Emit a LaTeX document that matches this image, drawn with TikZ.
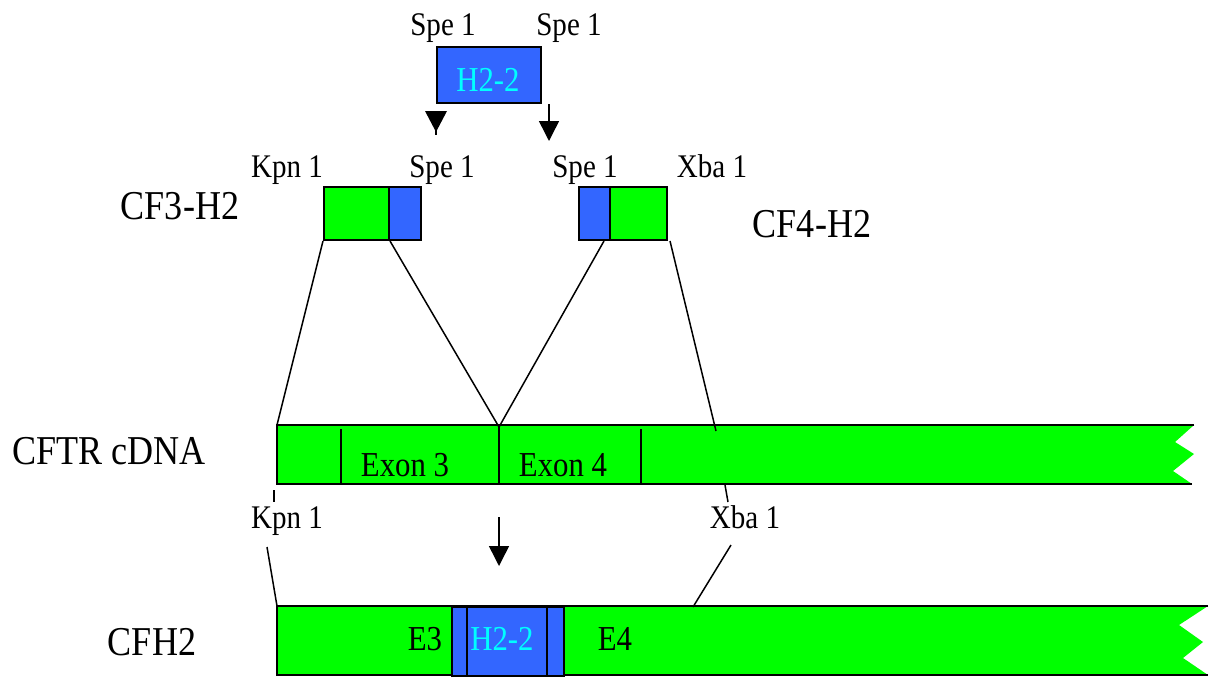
\documentclass[tikz,border=0pt]{standalone}
\usepackage{fontspec}
\setmainfont[FakeStretch=0.88]{Liberation Serif}
\usetikzlibrary{arrows.meta}
\definecolor{gfill}{HTML}{00FF00}
\definecolor{bfill}{HTML}{3366FF}
\definecolor{ctext}{HTML}{00FFFF}
\tikzset{
  lbl/.style={anchor=base, inner sep=0pt, font=\fontsize{33}{33}\selectfont},
  exlbl/.style={anchor=base, inner sep=0pt, font=\fontsize{35}{35}\selectfont},
  biglbl/.style={anchor=base, inner sep=0pt, font=\fontsize{41}{41}\selectfont},
  gbox/.style={draw=black, line width=2pt, fill=gfill, inner sep=0pt, anchor=north west},
  bbox/.style={draw=black, line width=2pt, fill=bfill, inner sep=0pt, anchor=north west},
  conn/.style={draw=black, line width=1.5pt},
  edge/.style={draw=black, line width=2pt},
  darr/.style={draw=black, line width=1.5pt, -{Triangle[width=20pt,length=20pt]}}
}
\begin{document}
\begin{tikzpicture}[x=1pt,y=-1pt]
\useasboundingbox (0,0) rectangle (1210,677);
% ---------- top H2-2 fragment ----------
\node[bbox, minimum width=104pt, minimum height=56pt] (h2top) at (436,46) {};
\node[exlbl, text=ctext] (h2toptxt) at (488,92) {H2-2};
\node[lbl] (spe1) at (443,36) {Spe 1};
\node[lbl] (spe2) at (569,36) {Spe 1};
% arrows below
\coordinate (la1) at (436,128);
\coordinate (la2) at (436,135);
\fill[black] (425,111) -- (447,111) -- (436,132) -- cycle;
\draw[conn] (la1) -- (la2);
\coordinate (ra1) at (549,104);
\coordinate (ra2) at (549,141);
\draw[darr] (ra1) -- (ra2);
% ---------- CF3-H2 / CF4-H2 ----------
\node[gbox, minimum width=65pt, minimum height=53pt] (cf3g) at (323,186) {};
\node[bbox, minimum width=32pt, minimum height=53pt] (cf3b) at (388,186) {};
\node[bbox, minimum width=31pt, minimum height=53pt] (cf4b) at (578,186) {};
\node[gbox, minimum width=57pt, minimum height=53pt] (cf4g) at (609,186) {};
\node[lbl] (kpnA) at (287,177) {Kpn 1};
\node[lbl] (speA) at (442,177) {Spe 1};
\node[lbl] (speB) at (585,177) {Spe 1};
\node[lbl] (xbaA) at (712,177) {Xba 1};
\node[biglbl] (cf3lbl) at (180,219) {CF3-H2};
\node[biglbl] (cf4lbl) at (812,237) {CF4-H2};
% ---------- CFTR cDNA bar ----------
\fill[gfill] (277,425) -- (1194,425) -- (1175,442) -- (1194,454) -- (1173,471) -- (1192,484) -- (277,484) -- cycle;
\draw[edge] (1194,425) -- (277,425) -- (277,484) -- (1192,484);
\coordinate (d1t) at (341,429); \coordinate (d1b) at (341,484);
\coordinate (d2t) at (499,425); \coordinate (d2b) at (499,484);
\coordinate (d3t) at (641,429); \coordinate (d3b) at (641,484);
\draw[edge] (d1t) -- (d1b);
\draw[edge] (d2t) -- (d2b);
\draw[edge] (d3t) -- (d3b);
\node[biglbl] (cftrlbl) at (109,464) {CFTR cDNA};
\node[exlbl] (ex3) at (405,476) {Exon 3};
\node[exlbl] (ex4) at (563,476) {Exon 4};
% connectors to cDNA
\coordinate (cL) at (277,425);
\coordinate (cM) at (499,427);
\coordinate (cR) at (716,431);
\draw[conn] (cf3g.south west) -- (cL);
\draw[conn] (cf3g.south east) -- (cM);
\draw[conn] ([xshift=-5pt]cf4g.south west) -- (cM);
\draw[conn] ([xshift=2pt]cf4g.south east) -- (cR);
% ---------- sites below cDNA ----------
\coordinate (kt1) at (274,490); \coordinate (kt2) at (274,502);
\draw[conn] (kt1) -- (kt2);
\coordinate (xt1) at (725,485); \coordinate (xt2) at (728,502);
\draw[conn] (xt1) -- (xt2);
\node[lbl] (kpnB) at (287,528) {Kpn 1};
\node[lbl] (xbaB) at (745,528) {Xba 1};
\coordinate (ma1) at (499,517); \coordinate (ma2) at (499,566);
\draw[darr] (ma1) -- (ma2);
% ---------- CFH2 bar ----------
\fill[gfill] (277,606) -- (1208,606) -- (1179,625) -- (1203,642) -- (1183,658) -- (1208,675) -- (277,675) -- cycle;
\draw[edge] (1208,606) -- (277,606) -- (277,675) -- (1208,675);
\node[bbox, minimum width=112pt, minimum height=69pt] (h2bot) at (451,606) {};
\coordinate (b1t) at (467,606); \coordinate (b1b) at (467,675);
\coordinate (b2t) at (547,606); \coordinate (b2b) at (547,675);
\draw[edge] (b1t) -- (b1b);
\draw[edge] (b2t) -- (b2b);
\node[biglbl] (cfh2lbl) at (152,655) {CFH2};
\node[exlbl] (e3) at (425,650) {E3};
\node[exlbl, text=ctext] (h2bottxt) at (502,650) {H2-2};
\node[exlbl] (e4) at (615,650) {E4};
% connectors to CFH2
\coordinate (kl1) at (267,547); \coordinate (kl2) at (277,606);
\draw[conn] (kl1) -- (kl2);
\coordinate (xl1) at (731,545); \coordinate (xl2) at (693,607);
\draw[conn] (xl1) -- (xl2);
\end{tikzpicture}
\end{document}
